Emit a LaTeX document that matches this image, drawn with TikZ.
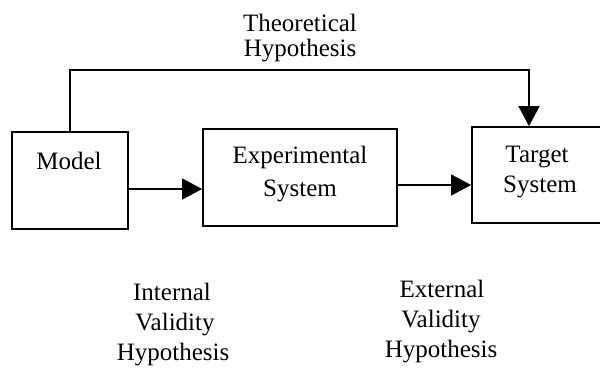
\documentclass[tikz,border=0pt]{standalone}
\usepackage{fontspec}
\setmainfont{Liberation Serif}
\usetikzlibrary{arrows.meta}
\begin{document}
\begin{tikzpicture}[x=1pt,y=-1pt,
  boxst/.style={draw,line width=1.8pt,rectangle,inner sep=0pt},
  txt/.style={anchor=base,inner sep=0pt,font=\fontsize{25}{30}\selectfont},
  conn/.style={line width=1.6pt},
  arr/.style={conn,-{Triangle[length=20pt,width=21pt]}}]
\useasboundingbox (0,0) rectangle (600,369);
\begin{scope}
\clip (0,0) rectangle (600,369);
% boxes
\node[boxst,minimum width=116pt,minimum height=97pt] (model) at (70,180.5) {};
\node[boxst,minimum width=194pt,minimum height=97pt] (exp) at (300,177.5) {};
\node[boxst,minimum width=160pt,minimum height=96pt] (target) at (552,175) {};
\end{scope}
% texts
\node[txt] (tTheo) at (300,32) {Theoretical};
\node[txt] (tHyp) at (300,57) {Hypothesis};
\node[txt] (tModel) at (69,169) {Model};
\node[txt] (tExp1) at (300,163) {Experimental};
\node[txt] (tExp2) at (300,196) {System};
\node[txt] (tTar1) at (537,162) {Target};
\node[txt] (tTar2) at (540,192) {System};
\node[txt] (tInt1) at (172,300) {Internal};
\node[txt] (tInt2) at (175,330) {Validity};
\node[txt] (tInt3) at (173,360) {Hypothesis};
\node[txt] (tExt1) at (442,297) {External};
\node[txt] (tExt2) at (441,327) {Validity};
\node[txt] (tExt3) at (441,357) {Hypothesis};
% connectors
\coordinate (corner) at (529,70);
\coordinate (a1) at (0,189);
\coordinate (a2) at (0,185);
\draw[arr] (model.north) |- (corner) -- (target.north -| corner);
\draw[arr] (model.east |- a1) -- (exp.west |- a1);
\draw[arr] (exp.east |- a2) -- (target.west |- a2);
\end{tikzpicture}
\end{document}
